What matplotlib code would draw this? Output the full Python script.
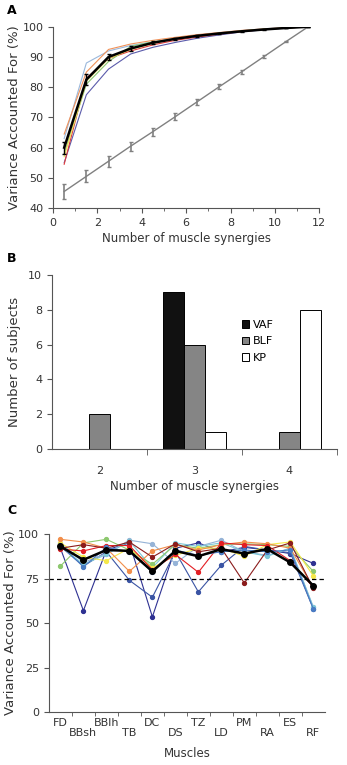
#!/usr/bin/env python3
"""Three panel figure: VAF curves, synergy counts, and per-muscle VAF"""

import numpy as np
import matplotlib
matplotlib.use('Agg')
import matplotlib.pyplot as plt
import matplotlib.transforms as mtrans

plt.rcParams['font.family'] = ['DejaVu Sans']
plt.rcParams['font.size'] = 8

# Panel A: VAF vs number of synergies
n_syn = [0.5, 1.5, 2.5, 3.5, 4.5, 5.5, 6.5, 7.5, 8.5, 9.5, 10.5, 11.5]
vaf_mean = [60, 82.5, 90, 92.8, 94.7, 96, 97, 97.8, 98.5, 99.1, 99.6, 100]
vaf_err = [2, 1.8, 1, 0.7, 0.5, 0.4, 0.3, 0.2, 0.2, 0.1, 0.1, 0]
shuffled = [45.5, 50.5, 55.5, 60.5, 65.3, 70.2, 75.2, 80.2, 85.1, 90.1, 95.1, 100]
shuffled_err = [2.5, 2, 1.8, 1.5, 1.3, 1.2, 1, 0.8, 0.6, 0.5, 0.3, 0]
subj_a = {
    '#5b5bab': [55, 77.5, 86, 91, 93.2, 94.8, 96.2, 97.3, 98.3, 99, 99.6, 100],
    '#9ab8dc': [63, 88, 92, 93.8, 95, 96.2, 97.2, 98, 98.7, 99.3, 99.7, 100],
    '#f0925a': [64.5, 85, 92.5, 94.3, 95.5, 96.5, 97.4, 98.1, 98.8, 99.3, 99.7, 100],
    '#e03c3c': [54.5, 83, 89.5, 92, 94, 95.5, 96.6, 97.6, 98.4, 99.1, 99.6, 100],
    '#8cc66e': [58, 81, 88.5, 93.5, 95, 96, 97, 97.9, 98.6, 99.2, 99.6, 100],
    '#f2e45a': [57, 82, 89.5, 92.5, 94.5, 96, 97, 97.8, 98.5, 99.1, 99.6, 100],
}

# Panel B: number of subjects per synergy count
syn_counts = ['2', '3', '4']
n_vaf = [0, 9, 0]
n_blf = [2, 6, 1]
n_kp = [0, 1, 8]

# Panel C: VAF per muscle
muscles = ['FD', 'BBsh', 'BBlh', 'TB', 'DC', 'DS', 'TZ', 'LD', 'PM', 'RA', 'ES', 'RF']
muscle_mean = [93, 85.5, 91, 90.5, 79, 90.5, 87.5, 91.5, 89, 91.5, 84, 71]
subj_c = {
    '#2e3192': [92, 57, 91, 95, 53.5, 92, 95, 90, 92.5, 91, 89, 83.5],
    '#3a54a4': [93, 82, 90, 74, 64.5, 90, 67.5, 82.5, 93, 91, 89.5, 58],
    '#95b3d7': [95, 84, 89, 96.5, 94.5, 83.5, 93, 96.5, 90, 88, 92, 59],
    '#7ec8d8': [93, 83, 88.5, 96, 81, 95, 93, 95, 90, 87.5, 92, 59],
    '#8dc86e': [82, 95, 97, 91, 83, 94, 92, 94, 94.5, 94, 93, 79],
    '#f5e84a': [95, 87, 85, 92, 81, 88, 92, 92, 87.5, 94, 95.5, 76.5],
    '#f28e4a': [97, 95.5, 92, 79, 90.5, 94, 91, 94, 95.5, 94.5, 92, 70],
    '#e31e24': [91.5, 90.5, 93.5, 93.5, 80, 88.5, 78.5, 95, 94, 93.5, 85, 70],
    '#8b1c1c': [92, 94, 92, 95.5, 87, 94.5, 90, 92, 72.5, 91, 95, 69.5],
    '#4a7cc4': [94, 81.5, 92.5, 90, 78.5, 91, 88, 90, 91, 90, 91, 58],
}


def clean(ax):
    """Hide top and right spines"""
    ax.spines['top'].set_visible(False)
    ax.spines['right'].set_visible(False)
    for s in ('left', 'bottom'):
        ax.spines[s].set_color('#555555')
        ax.spines[s].set_linewidth(0.8)
    ax.tick_params(which='both', direction='out', color='#555555', labelsize=8,
                   labelcolor='#333333')


fig = plt.figure(figsize=(3.47, 7.65), dpi=100)

# ---- A
axA = fig.add_axes([0.153, 0.728, 0.767, 0.237])
clean(axA)
for c, v in subj_a.items():
    axA.plot(n_syn, v, color=c, lw=0.8)
axA.errorbar(n_syn, shuffled, yerr=shuffled_err, color='#808080', lw=1,
             capsize=1.5, elinewidth=1.2)
axA.errorbar(n_syn, vaf_mean, yerr=vaf_err, color='black', lw=1.8,
             capsize=1.5, elinewidth=1)
axA.set_xlim(0, 12)
axA.set_ylim(40, 100)
axA.set_xticks(np.arange(0, 13, 2))
axA.set_xticks(np.arange(1, 12, 2), minor=True)
axA.set_yticks(np.arange(40, 101, 10))
axA.set_xlabel('Number of muscle synergies', fontsize=8.5, color='#333333', labelpad=3)
axA.set_ylabel('Variance Accounted For (%)', fontsize=9.5, color='#333333', labelpad=1)

# ---- B
axB = fig.add_axes([0.150, 0.413, 0.821, 0.2275])
clean(axB)
x = np.arange(len(syn_counts))
w = 0.22
axB.bar(x - w, n_vaf, w, color='#111111', edgecolor='black', lw=0.7, label='VAF')
axB.bar(x, n_blf, w, color='#858585', edgecolor='black', lw=0.7, label='BLF')
axB.bar(x + w, n_kp, w, color='white', edgecolor='black', lw=0.7, label='KP')
axB.set_xlim(-0.5, 2.5)
axB.set_ylim(0, 10)
axB.set_yticks(np.arange(0, 11, 2))
axB.set_xticks(x)
axB.set_xticklabels(syn_counts)
axB.set_xticks([0.5, 1.5, 2.5], minor=True)
axB.tick_params(axis='x', which='major', length=0, pad=12)
axB.tick_params(axis='x', which='minor', length=4)
axB.set_xlabel('Number of muscle synergies', fontsize=8.5, color='#333333', labelpad=3)
axB.set_ylabel('Number of subjects', fontsize=9.5, color='#333333', labelpad=5)
axB.legend(loc='upper left', bbox_to_anchor=(0.63, 0.80), frameon=False,
           handlelength=0.7, handleheight=0.7, handletextpad=0.3,
           labelspacing=0.6, fontsize=8)

# ---- C
axC = fig.add_axes([0.141, 0.069, 0.795, 0.233])
clean(axC)
xm = np.arange(len(muscles))
for c, v in subj_c.items():
    axC.plot(xm, v, color=c, lw=0.8, marker='o', ms=2.8)
axC.plot(xm, muscle_mean, color='black', lw=1.8, marker='o', ms=4)
axC.axhline(75, color='black', ls='--', lw=0.9, dashes=(3.5, 2.5))
axC.set_xlim(-0.5, 11.5)
axC.set_ylim(0, 100)
axC.set_yticks([0, 25, 50, 75, 100])
axC.set_xticks(xm)
# staggered labels: even ones as tick labels, odd ones a line lower
axC.set_xticklabels([m if i % 2 == 0 else '' for i, m in enumerate(muscles)])
trans = mtrans.blended_transform_factory(axC.transData, axC.transAxes)
for i, m in enumerate(muscles):
    if i % 2 == 1:
        axC.text(i, -0.09, m, transform=trans, ha='center', va='top',
                 fontsize=8, color='#333333')
axC.set_xticks(np.arange(0.5, 11.5, 1), minor=True)
axC.tick_params(axis='x', which='major', length=0, pad=4)
axC.tick_params(axis='x', which='minor', length=3)
axC.set_xlabel('Muscles', fontsize=8.5, color='#333333', labelpad=14)
axC.set_ylabel('Variance Accounted For (%)', fontsize=9.5, color='#333333', labelpad=1)

# panel letters
for lab, yy in (('A', 10), ('B', 258), ('C', 511)):
    fig.text(12 / 347, 1 - yy / 765, lab, fontsize=9, fontweight='bold',
             ha='center', va='center')

fig.savefig('out.png', dpi=100)
